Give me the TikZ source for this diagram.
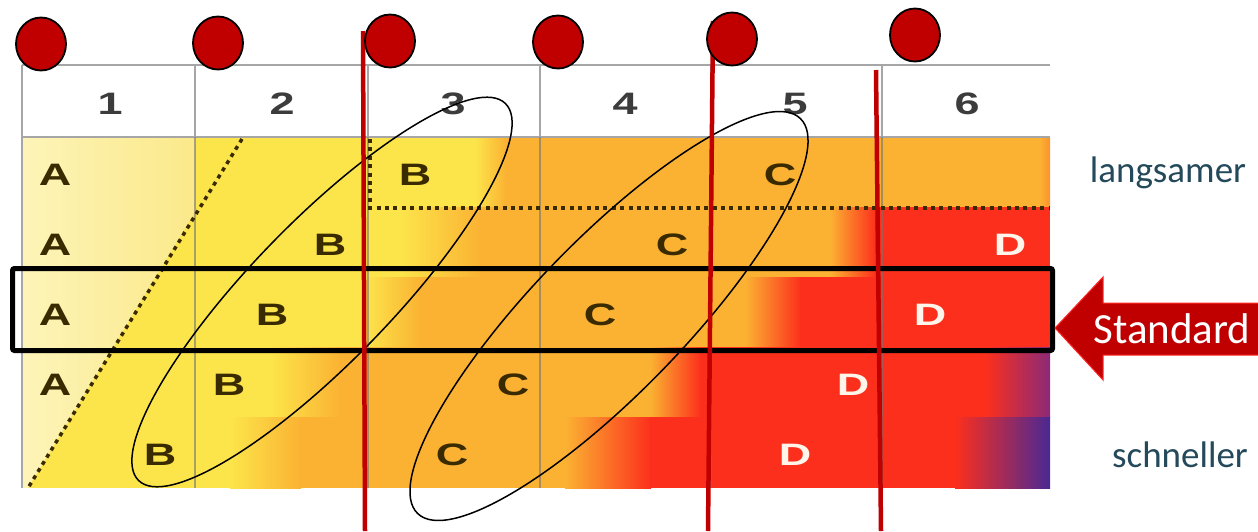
\documentclass[tikz,border=0pt]{standalone}
\usepackage{fontspec}
\usepackage{graphicx}
\setmainfont{Carlito}
\newfontfamily\tabfont{Liberation Sans}
\usetikzlibrary{shapes.geometric}
\definecolor{paleL}{HTML}{FDF4B8}
\definecolor{paleR}{HTML}{FBE98A}
\definecolor{yel}{HTML}{FCE54B}
\definecolor{ora}{HTML}{FBB232}
\definecolor{redd}{HTML}{FC2F1C}
\definecolor{purp}{HTML}{4A2894}
\definecolor{mag}{HTML}{8A2A78}
\definecolor{dred}{HTML}{C00000}
\definecolor{slate}{HTML}{24495A}
\definecolor{ltred}{HTML}{FF2A2A}
\definecolor{dotc}{HTML}{3A2A00}
\definecolor{numc}{HTML}{3C3C3C}
\newcommand{\wide}[1]{\scalebox{1.45}[1]{#1}}
\tikzset{
  lt/.style={font=\tabfont\bfseries\fontsize{31}{31}\selectfont, text=dotc, inner sep=0},
  ltw/.style={lt, text=white!92!orange},
  num/.style={lt, text=numc},
  dotline/.style={draw=dotc, line width=3.5, dash pattern=on 4 off 4.4},
  redline/.style={draw=dred, line width=4.5},
  reddot/.style={ellipse, draw=black, line width=1.8, fill=dred, minimum width=50, minimum height=53, inner sep=0},
  loop/.style={ellipse, draw=black, line width=1.5, inner sep=0},
  side/.style={font=\fontsize{37}{37}\selectfont, text=slate, anchor=base, inner sep=0},
  gridline/.style={draw=black!55, line width=1.2, opacity=0.6},
  headline/.style={draw=black!35, line width=1.5}
}
\begin{document}
\begin{tikzpicture}[x=1pt,y=-1pt]
\useasboundingbox (0,0) rectangle (1258,531);
% ---------- row backgrounds ----------
% row 1
\fill[yel] (22,137) rectangle (476,207.5);
\shade[left color=yel,right color=ora] (475,137) rectangle (506,207.5);
\fill[ora] (505,137) rectangle (1041,207.5);
\shade[left color=ora,right color=ora!75!redd] (1040,137) rectangle (1050,207.5);
% row 2
\fill[yel] (22,207) rectangle (401,277.5);
\shade[left color=yel,right color=ora] (400,207) rectangle (481,277.5);
\fill[ora] (480,207) rectangle (831,277.5);
\shade[left color=ora,right color=redd] (830,207) rectangle (876,277.5);
\fill[redd] (875,207) rectangle (1050,277.5);
% row 3
\fill[yel] (22,277) rectangle (366,347.5);
\shade[left color=yel,right color=ora] (365,277) rectangle (421,347.5);
\fill[ora] (420,277) rectangle (746,347.5);
\shade[left color=ora,right color=redd] (745,277) rectangle (801,347.5);
\fill[redd] (800,277) rectangle (1050,347.5);
% row 4
\fill[yel] (22,347) rectangle (271,417.5);
\shade[left color=yel,right color=ora] (270,347) rectangle (341,417.5);
\fill[ora] (340,347) rectangle (651,417.5);
\shade[left color=ora,right color=redd] (650,347) rectangle (701,417.5);
\fill[redd] (700,347) rectangle (986,417.5);
\shade[left color=redd,right color=mag] (985,347) rectangle (1050,417.5);
% row 5
\fill[yel] (22,417) rectangle (231,488);
\shade[left color=yel,right color=ora] (230,417) rectangle (301,488);
\fill[ora] (300,417) rectangle (566,488);
\shade[left color=ora,right color=redd] (565,417) rectangle (651,488);
\fill[redd] (650,417) rectangle (956,488);
\shade[left color=redd,right color=purp] (955,417) rectangle (1050,488);
% pale part of column 1
\shade[left color=paleL,right color=paleR] (22,137) -- (195,137) -- (195,212) -- (28,488) -- (22,488) -- cycle;
% ---------- header ----------
\fill[white] (22,65) rectangle (1050,137);
\draw[headline] (22,65) -- (1050,65);
\draw[headline] (22,137) -- (1050,137);
\draw[headline] (22,65) -- (22,488);
\foreach \x in {195,368,540,711,882} {
  \draw[headline] (\x,65) -- (\x,137);
  \draw[gridline] (\x,137) -- (\x,488);
}
\node[num] (h1) at (110,104) {\wide{1}};
\node[num] (h2) at (282,104) {\wide{2}};
\node[num] (h3) at (453,104) {\wide{3}};
\node[num] (h4) at (625,104) {\wide{4}};
\node[num] (h5) at (795,104) {\wide{5}};
\node[num] (h6) at (967,104) {\wide{6}};
% ---------- letters ----------
\node[lt] (a1) at (55,175) {\wide{A}};
\node[lt] (a2) at (55,245) {\wide{A}};
\node[lt] (a3) at (55,315) {\wide{A}};
\node[lt] (a4) at (55,385) {\wide{A}};
\node[lt] (b1) at (415,175) {\wide{B}};
\node[lt] (b2) at (330,245) {\wide{B}};
\node[lt] (b3) at (272,315) {\wide{B}};
\node[lt] (b4) at (229,385) {\wide{B}};
\node[lt] (b5) at (160,455) {\wide{B}};
\node[lt] (c1l) at (780,175) {\wide{C}};
\node[lt] (c2l) at (672,245) {\wide{C}};
\node[lt] (c3l) at (600,315) {\wide{C}};
\node[lt] (c4l) at (513,385) {\wide{C}};
\node[lt] (c5l) at (452,455) {\wide{C}};
\node[ltw] (d2) at (1010,245) {\wide{D}};
\node[ltw] (d3) at (930,315) {\wide{D}};
\node[ltw] (d4) at (853,385) {\wide{D}};
\node[ltw] (d5) at (795,455) {\wide{D}};
% ---------- dotted lines ----------
\coordinate (dgA) at (242,139);
\coordinate (dgB) at (28,488);
\coordinate (dvA) at (370,139);
\coordinate (dvB) at (370,208);
\coordinate (dhB) at (1050,208);
\draw[dotline] (dgA) -- (dgB);
\draw[dotline] (dvA) -- (dvB) -- (dhB);
% ---------- standard box ----------
\node[draw=black, line width=5, rounded corners=2, minimum width=1040, minimum height=82, inner sep=0] (std) at (532.5,309.5) {};
% ---------- ellipses ----------
\node[loop, minimum width=526, minimum height=140, rotate=45.8] (e1) at (322,292) {};
\node[loop, minimum width=550, minimum height=152, rotate=45.9] (e2) at (609,316) {};
% ---------- red lines ----------
\coordinate (r1t) at (363,31);  \coordinate (r1b) at (365,531);
\coordinate (r2t) at (713,21);  \coordinate (r2b) at (708,531);
\coordinate (r3t) at (876,70);  \coordinate (r3b) at (881,531);
\draw[redline] (r1t) -- (r1b);
\draw[redline] (r2t) -- (r2b);
\draw[redline] (r3t) -- (r3b);
% ---------- red dots ----------
\node[reddot] (p1) at (41,44) {};
\node[reddot] (p2) at (218,43) {};
\node[reddot] (p3) at (390,41) {};
\node[reddot] (p4) at (558,42) {};
\node[reddot] (p5) at (732,39) {};
\node[reddot] (p6) at (915,35) {};
% ---------- arrow ----------
\coordinate (tip) at (1055,328);
\filldraw[fill=dred, draw=ltred, line width=1] (tip) -- (1103,277) -- (1103,303) -- (1259,303) -- (1259,355) -- (1103,355) -- (1103,380) -- cycle;
\node[font=\fontsize{43}{43}\selectfont, text=white, anchor=base, inner sep=0] (stdlbl) at (1172,343) {Standard};
% ---------- side labels ----------
\node[side] (slow) at (1168,182) {langsamer};
\node[side] (fast) at (1180,467) {schneller};
\end{tikzpicture}
\end{document}
